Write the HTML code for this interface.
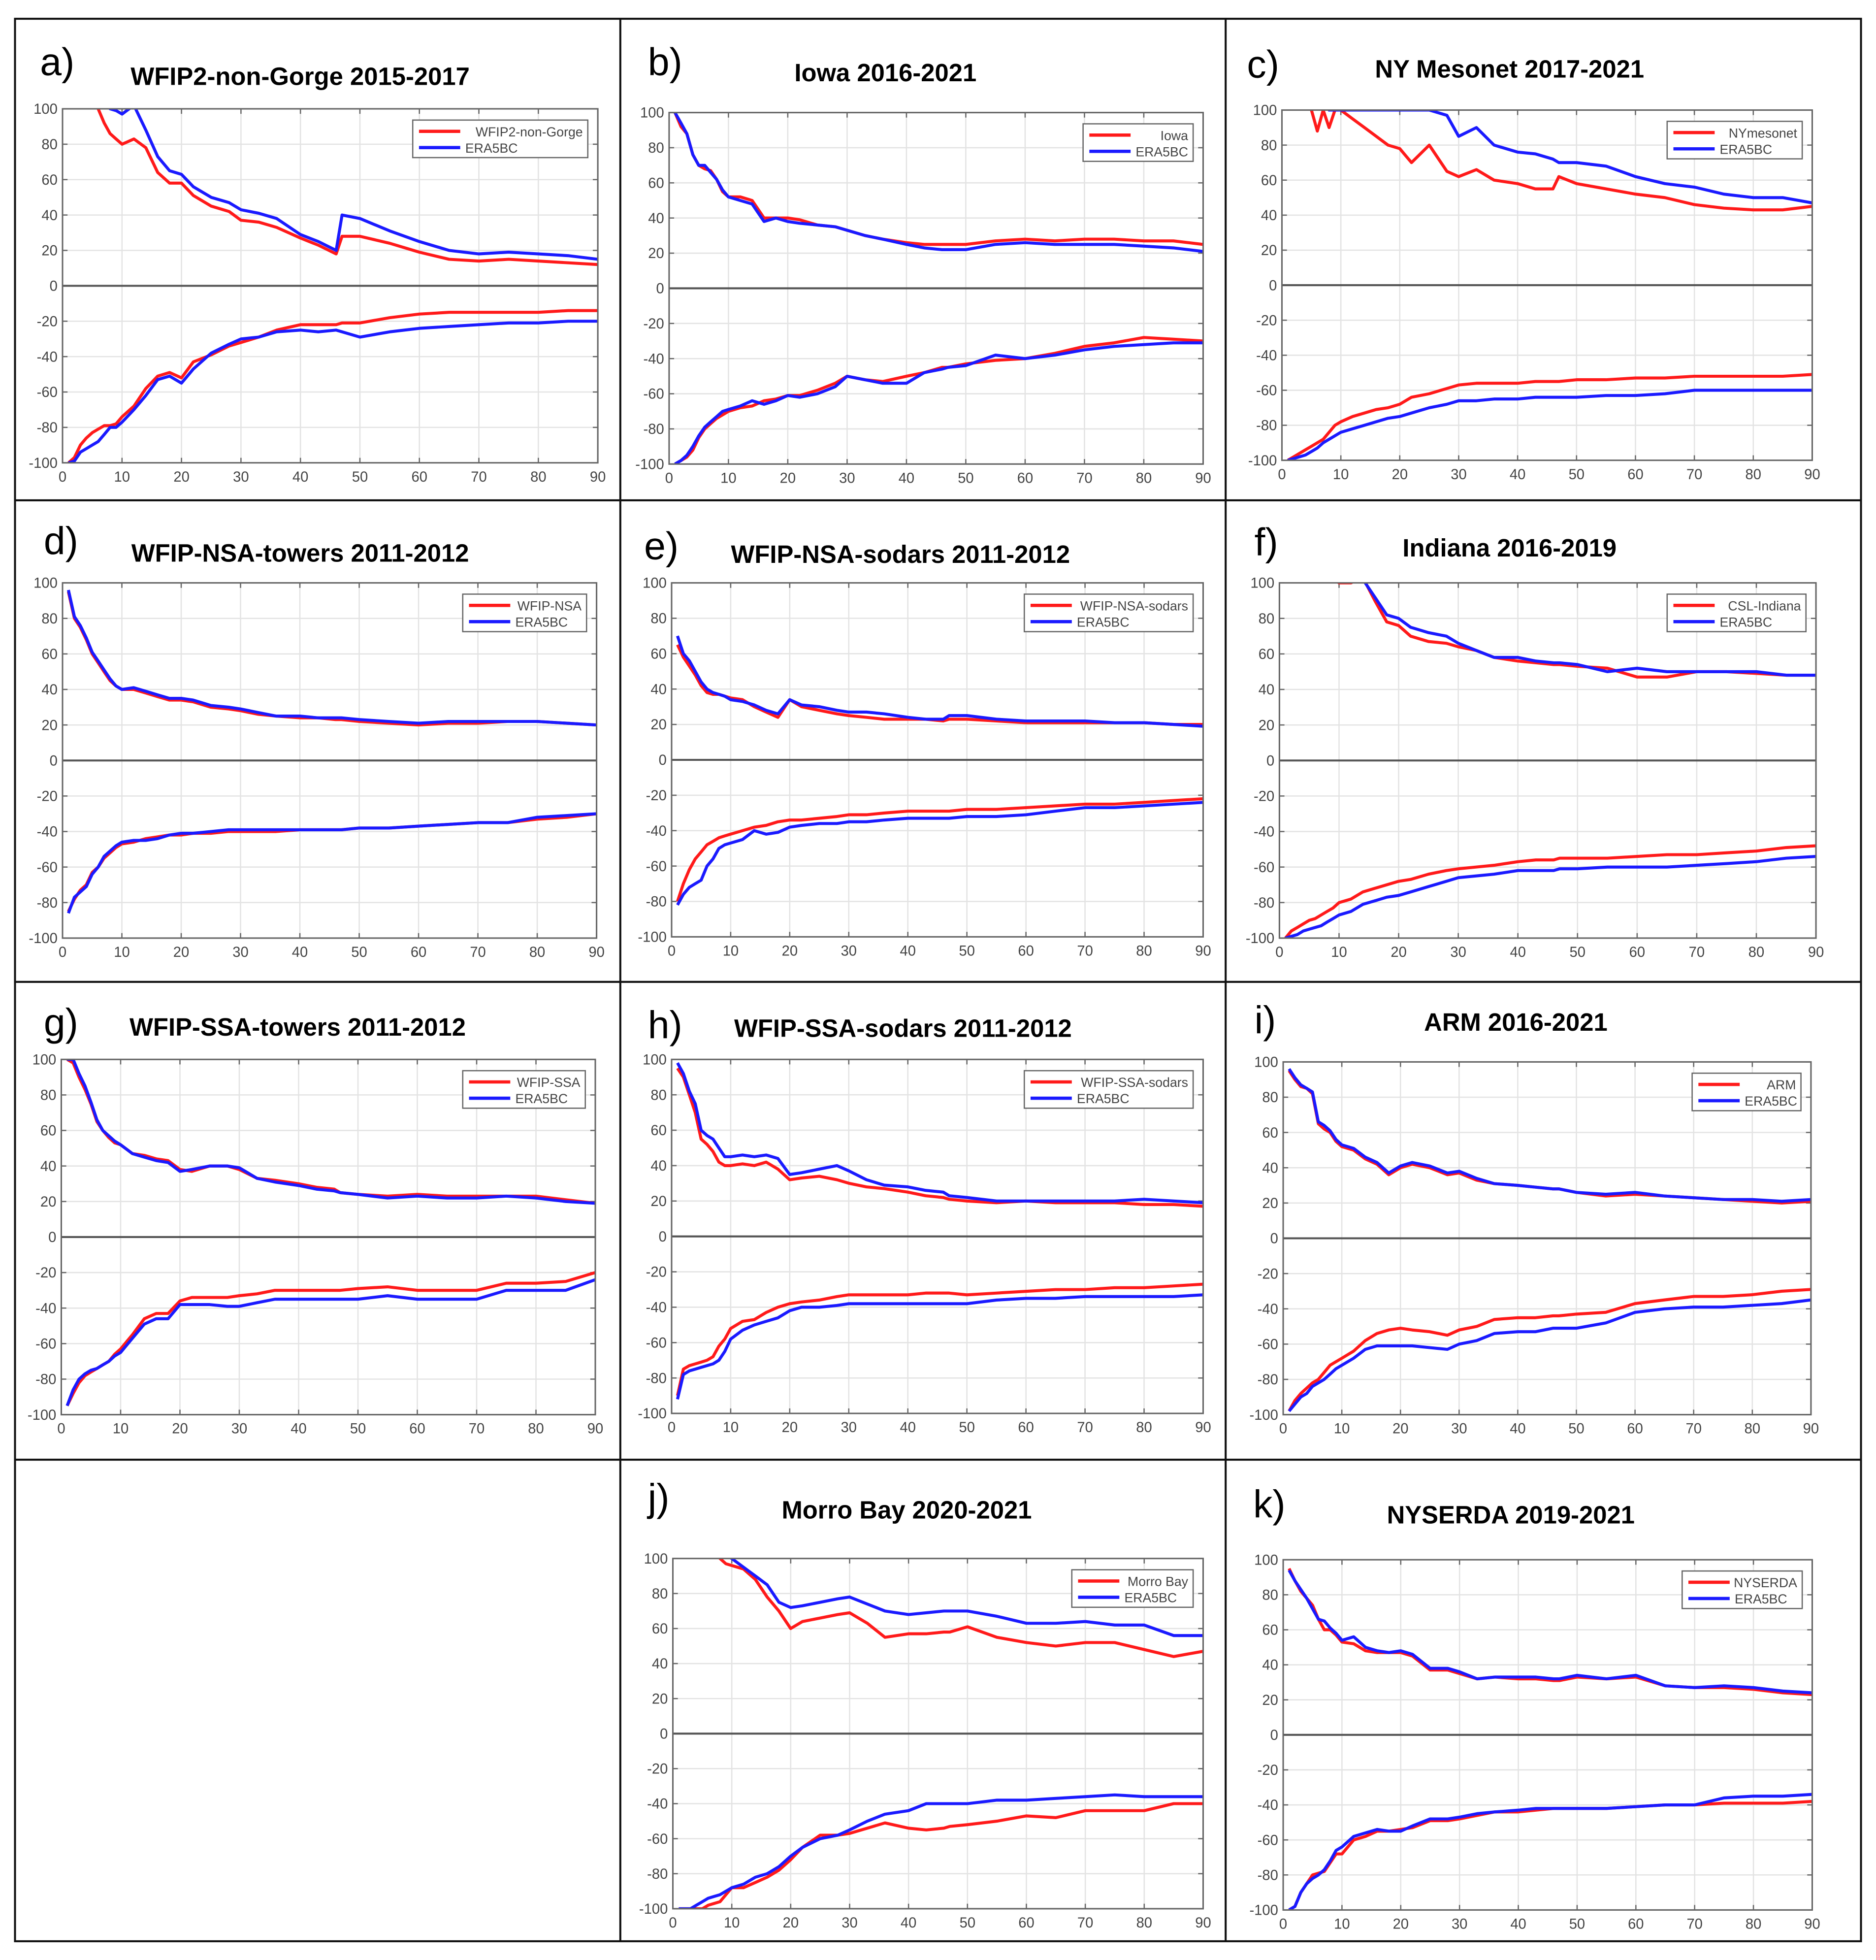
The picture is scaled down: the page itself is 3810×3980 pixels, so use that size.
<!DOCTYPE html>
<html><head><meta charset="utf-8">
<style>
html,body{margin:0;padding:0;background:#fff;}
svg{display:block;}
text{font-family:"Liberation Sans",sans-serif;}
</style></head>
<body>
<svg id="fig" xmlns="http://www.w3.org/2000/svg" width="3810" height="3980" viewBox="0 0 1500 1567" preserveAspectRatio="none">
<rect x="0" y="0" width="1500" height="1567" fill="#fff"/>
<g stroke="#111" stroke-width="1.6" fill="none">
<rect x="12" y="15" width="1476" height="1537"/>
<line x1="496" y1="15" x2="496" y2="1552"/>
<line x1="980" y1="15" x2="980" y2="1552"/>
<line x1="12" y1="400" x2="1488" y2="400"/>
<line x1="12" y1="785" x2="1488" y2="785"/>
<line x1="12" y1="1167" x2="1488" y2="1167"/>
</g>
</svg>
<script>
// shared x positions (lead time index)
const X = [1,2,3,4,5,6,7,8,9,10,12,14,16,18,20,22,25,28,30,33,36,40,43,46,47,50,55,60,65,70,75,80,85,90];
const yTicks = [100,80,60,40,20,0,-20,-40,-60,-80,-100];
const xTicks = [0,10,20,30,40,50,60,70,80,90];

const aRedTop = [140,130,122,115,108,100,92,86,83,80,83,78,64,58,58,51,45,42,37,36,33,27,23,18,28,28,24,19,15,14,15,14,13,12];
const aBlueTop = [150,140,130,120,115,110,105,100,99,97,102,88,73,65,63,56,50,47,43,41,38,29,25,20,40,38,31,25,20,18,19,18,17,15];
const aRedBot = [-100,-97,-90,-86,-83,-81,-79,-79,-78,-74,-68,-58,-51,-49,-52,-43,-39,-34,-32,-29,-25,-22,-22,-22,-21,-21,-18,-16,-15,-15,-15,-15,-14,-14];
const aBlueBot = [-100,-99,-94,-92,-90,-88,-84,-80,-80,-77,-70,-62,-53,-51,-55,-47,-38,-33,-30,-29,-26,-25,-26,-25,-26,-29,-26,-24,-23,-22,-21,-21,-20,-20];

const bRedTop = [100,92,88,76,70,68,67,62,55,52,52,50,40,40,40,39,36,35,33,30,28,26,25,25,25,25,27,28,27,28,28,27,27,25];
const bBlueTop = [100,94,88,76,70,70,66,62,56,52,50,48,38,40,38,37,36,35,33,30,28,25,23,22,22,22,25,26,25,25,25,24,23,21];
const bRedBot = [-100,-98,-96,-92,-85,-80,-77,-74,-72,-70,-68,-67,-64,-63,-61,-61,-58,-54,-50,-52,-53,-50,-48,-45,-45,-43,-41,-40,-37,-33,-31,-28,-29,-30];
const bBlueBot = [-100,-98,-95,-90,-84,-79,-76,-73,-70,-69,-67,-64,-66,-64,-61,-62,-60,-56,-50,-52,-54,-54,-48,-46,-45,-44,-38,-40,-38,-35,-33,-32,-31,-31];

const cRedTop = [130,120,115,110,100,88,100,90,100,100,95,90,85,80,78,70,80,65,62,66,60,58,55,55,62,58,55,52,50,46,44,43,43,45];
const cBlueTop = [150,150,140,130,120,110,105,100,100,100,100,100,100,100,100,100,100,97,85,90,80,76,75,72,70,70,68,62,58,56,52,50,50,47];
const cRedBot = [-100,-98,-96,-94,-92,-90,-88,-84,-80,-78,-75,-73,-71,-70,-68,-64,-62,-59,-57,-56,-56,-56,-55,-55,-55,-54,-54,-53,-53,-52,-52,-52,-52,-51];
const cBlueBot = [-100,-99,-98,-97,-95,-93,-90,-88,-86,-84,-82,-80,-78,-76,-75,-73,-70,-68,-66,-66,-65,-65,-64,-64,-64,-64,-63,-63,-62,-60,-60,-60,-60,-60];

const dRedTop = [95,80,75,68,60,55,50,45,42,40,40,38,36,34,34,33,30,29,28,26,25,24,24,23,23,22,21,20,21,21,22,22,21,20];
const dBlueTop = [96,81,76,69,61,56,51,46,42,40,41,39,37,35,35,34,31,30,29,27,25,25,24,24,24,23,22,21,22,22,22,22,21,20];
const dRedBot = [-85,-78,-73,-70,-63,-60,-55,-52,-49,-47,-46,-44,-43,-42,-42,-41,-41,-40,-40,-40,-40,-39,-39,-39,-39,-38,-38,-37,-36,-35,-35,-33,-32,-30];
const dBlueBot = [-86,-77,-74,-71,-64,-60,-54,-51,-48,-46,-45,-45,-44,-42,-41,-41,-40,-39,-39,-39,-39,-39,-39,-39,-39,-38,-38,-37,-36,-35,-35,-32,-31,-30];

const eRedTop = [65,58,53,48,42,38,37,37,36,35,34,30,27,24,34,30,28,26,25,24,23,23,23,22,23,23,22,21,21,21,21,21,20,20];
const eBlueTop = [70,60,56,50,44,40,38,37,36,34,33,31,28,26,34,31,30,28,27,27,26,24,23,23,25,25,23,22,22,22,21,21,20,19];
const eRedBot = [-80,-70,-62,-56,-52,-48,-46,-44,-43,-42,-40,-38,-37,-35,-34,-34,-33,-32,-31,-31,-30,-29,-29,-29,-29,-28,-28,-27,-26,-25,-25,-24,-23,-22];
const eBlueBot = [-82,-76,-72,-70,-68,-60,-56,-50,-48,-47,-45,-40,-42,-41,-38,-37,-36,-36,-35,-35,-34,-33,-33,-33,-33,-32,-32,-31,-29,-27,-27,-26,-25,-24];

const fRedTop = [130,125,120,115,112,110,108,105,102,100,100,103,90,78,76,70,67,66,64,62,58,56,55,54,54,53,52,47,47,50,50,49,48,48];
const fBlueTop = [140,135,130,125,120,115,110,108,105,105,104,102,92,82,80,75,72,70,66,62,58,58,56,55,55,54,50,52,50,50,50,50,48,48];
const fRedBot = [-100,-96,-94,-92,-90,-89,-87,-85,-83,-80,-78,-74,-72,-70,-68,-67,-64,-62,-61,-60,-59,-57,-56,-56,-55,-55,-55,-54,-53,-53,-52,-51,-49,-48];
const fBlueBot = [-100,-99,-98,-96,-95,-94,-93,-91,-89,-87,-85,-81,-79,-77,-76,-74,-71,-68,-66,-65,-64,-62,-62,-62,-61,-61,-60,-60,-60,-59,-58,-57,-55,-54];

const gRedTop = [100,98,90,83,75,65,60,56,53,52,47,46,44,43,38,37,40,40,38,33,32,30,28,27,25,24,23,24,23,23,23,23,21,19];
const gBlueTop = [100,100,92,85,76,66,60,57,54,52,47,45,43,42,37,38,40,40,39,33,31,29,27,26,25,24,22,23,22,22,23,22,20,19];
const gRedBot = [-95,-88,-82,-78,-76,-74,-72,-70,-66,-63,-55,-46,-43,-43,-36,-34,-34,-34,-33,-32,-30,-30,-30,-30,-30,-29,-28,-30,-30,-30,-26,-26,-25,-20];
const gBlueBot = [-95,-86,-80,-77,-75,-74,-72,-70,-67,-65,-57,-49,-46,-46,-38,-38,-38,-39,-39,-37,-35,-35,-35,-35,-35,-35,-33,-35,-35,-35,-30,-30,-30,-24];

const hRedTop = [95,90,80,70,55,52,48,42,40,40,41,40,42,38,32,33,34,32,30,28,27,25,23,22,21,20,19,20,19,19,19,18,18,17];
const hBlueTop = [98,92,82,75,60,57,55,50,45,45,46,45,46,44,35,36,38,40,37,32,29,28,26,25,23,22,20,20,20,20,20,21,20,19];
const hRedBot = [-90,-75,-73,-72,-71,-70,-68,-62,-58,-52,-48,-47,-43,-40,-38,-37,-36,-34,-33,-33,-33,-33,-32,-32,-32,-33,-32,-31,-30,-30,-29,-29,-28,-27];
const hBlueBot = [-92,-78,-76,-75,-74,-73,-72,-70,-65,-58,-53,-50,-48,-46,-42,-40,-40,-39,-38,-38,-38,-38,-38,-38,-38,-38,-36,-35,-35,-34,-34,-34,-34,-33];

const iRedTop = [95,90,86,85,82,65,62,60,55,52,50,45,42,36,40,42,40,36,37,33,31,30,29,28,28,26,24,25,24,23,22,21,20,21];
const iBlueTop = [96,91,87,85,83,66,64,61,56,53,51,46,43,37,41,43,41,37,38,34,31,30,29,28,28,26,25,26,24,23,22,22,21,22];
const iRedBot = [-98,-92,-88,-85,-82,-80,-76,-72,-70,-68,-64,-58,-54,-52,-51,-52,-53,-55,-52,-50,-46,-45,-45,-44,-44,-43,-42,-37,-35,-33,-33,-32,-30,-29];
const iBlueBot = [-98,-94,-90,-88,-84,-82,-80,-77,-74,-72,-68,-63,-61,-61,-61,-61,-62,-63,-60,-58,-54,-53,-53,-51,-51,-51,-48,-42,-40,-39,-39,-38,-37,-35];

const jRedTop = [150,140,130,120,115,110,105,100,97,96,94,88,78,70,60,64,66,68,69,63,55,57,57,58,58,61,55,52,50,52,52,48,44,47];
const jBlueTop = [160,150,140,130,120,115,110,105,102,100,95,90,85,75,72,73,75,77,78,74,70,68,69,70,70,70,67,63,63,64,62,62,56,56];
const jRedBot = [-100,-100,-100,-100,-100,-98,-97,-96,-92,-88,-88,-85,-82,-78,-72,-65,-58,-58,-57,-54,-51,-54,-55,-54,-53,-52,-50,-47,-48,-44,-44,-44,-40,-40];
const jBlueBot = [-100,-100,-100,-98,-96,-94,-93,-92,-90,-88,-86,-82,-80,-76,-70,-65,-60,-58,-55,-50,-46,-44,-40,-40,-40,-40,-38,-38,-37,-36,-35,-36,-36,-36];

const kRedTop = [95,88,82,78,74,66,60,60,57,53,52,48,47,47,47,45,37,37,35,32,33,32,32,31,31,33,32,33,28,27,27,26,24,23];
const kBlueTop = [94,88,83,78,72,66,65,61,58,54,56,50,48,47,48,46,38,38,36,32,33,33,33,32,32,34,32,34,28,27,28,27,25,24];
const kRedBot = [-100,-98,-90,-85,-80,-79,-78,-73,-68,-68,-60,-58,-55,-55,-54,-53,-49,-49,-48,-46,-44,-44,-43,-42,-42,-42,-42,-41,-40,-40,-39,-39,-39,-38];
const kBlueBot = [-100,-98,-90,-85,-82,-80,-77,-72,-66,-64,-58,-56,-54,-55,-55,-52,-48,-48,-47,-45,-44,-43,-42,-42,-42,-42,-42,-41,-40,-40,-36,-35,-35,-34];

const panels = [
 {id:'a',letter:'a)',title:'WFIP2-non-Gorge 2015-2017',leg:'WFIP2-non-Gorge',box:[50,87,478,370],lx:32,ly:60,tx:240,ty:68,lw:140,s:[aRedTop,aBlueTop,aRedBot,aBlueBot]},
 {id:'b',letter:'b)',title:'Iowa 2016-2021',leg:'Iowa',box:[535,90,962,371],lx:518,ly:60,tx:708,ty:65,lw:88,s:[bRedTop,bBlueTop,bRedBot,bBlueBot]},
 {id:'c',letter:'c)',title:'NY Mesonet 2017-2021',leg:'NYmesonet',box:[1025,88,1449,368],lx:997,ly:62,tx:1207,ty:62,lw:108,s:[cRedTop,cBlueTop,cRedBot,cBlueBot]},
 {id:'d',letter:'d)',title:'WFIP-NSA-towers 2011-2012',leg:'WFIP-NSA',box:[50,466,477,750],lx:35,ly:443,tx:240,ty:449,lw:99,s:[dRedTop,dBlueTop,dRedBot,dBlueBot]},
 {id:'e',letter:'e)',title:'WFIP-NSA-sodars 2011-2012',leg:'WFIP-NSA-sodars',box:[537,466,962,749],lx:515,ly:447,tx:720,ty:450,lw:135,s:[eRedTop,eBlueTop,eRedBot,eBlueBot]},
 {id:'f',letter:'f)',title:'Indiana 2016-2019',leg:'CSL-Indiana',box:[1023,466,1452,750],lx:1003,ly:444,tx:1207,ty:445,lw:111,s:[fRedTop,fBlueTop,fRedBot,fBlueBot]},
 {id:'g',letter:'g)',title:'WFIP-SSA-towers 2011-2012',leg:'WFIP-SSA',box:[49,847,476,1131],lx:35,ly:828,tx:238,ty:828,lw:98,s:[gRedTop,gBlueTop,gRedBot,gBlueBot]},
 {id:'h',letter:'h)',title:'WFIP-SSA-sodars 2011-2012',leg:'WFIP-SSA-sodars',box:[537,847,962,1130],lx:518,ly:830,tx:722,ty:829,lw:135,s:[hRedTop,hBlueTop,hRedBot,hBlueBot]},
 {id:'i',letter:'i)',title:'ARM 2016-2021',leg:'ARM',box:[1026,849,1448,1131],lx:1003,ly:826,tx:1212,ty:824,lw:87,s:[iRedTop,iBlueTop,iRedBot,iBlueBot]},
 {id:'j',letter:'j)',title:'Morro Bay 2020-2021',leg:'Morro Bay',box:[538,1246,962,1526],lx:518,ly:1208,tx:725,ty:1214,lw:97,s:[jRedTop,jBlueTop,jRedBot,jBlueBot]},
 {id:'k',letter:'k)',title:'NYSERDA 2019-2021',leg:'NYSERDA',box:[1026,1247,1449,1527],lx:1002,ly:1213,tx:1208,ty:1218,lw:96,s:[kRedTop,kBlueTop,kRedBot,kBlueBot]}
];

const NS='http://www.w3.org/2000/svg';
const fig=document.getElementById('fig');
function mk(tag,attrs,parent){const e=document.createElementNS(NS,tag);for(const k in attrs)e.setAttribute(k,attrs[k]);(parent||fig).appendChild(e);return e;}

panels.forEach(p=>{
  const [x0,y0,x1,y1]=p.box;
  const sx=v=>x0+(v/90)*(x1-x0);
  const sy=v=>y0+((100-v)/200)*(y1-y0);
  const g=mk('g',{});
  
  
  const lt=mk('text',{x:p.lx,y:p.ly,'font-size':31,fill:'#000'},g);
  lt.textContent=p.letter;
  
  
  const tt=mk('text',{x:p.tx,y:p.ty,'font-size':20,'font-weight':'bold','text-anchor':'middle',fill:'#000'},g);
  tt.textContent=p.title;
  
  
  // grid
  const grid=mk('g',{stroke:'#e3e3e3','stroke-width':1},g);
  
  
  xTicks.forEach(t=>{mk('line',{x1:sx(t),y1:y0,x2:sx(t),y2:y1},grid);});
  yTicks.forEach(t=>{mk('line',{x1:x0,y1:sy(t),x2:x1,y2:sy(t)},grid);});
  // tick labels
  const yl=mk('g',{'font-size':11.5,fill:'#444','text-anchor':'end'},g);
  
  
  yTicks.forEach(t=>{const e=mk('text',{x:x0-4,y:sy(t)+4},yl);e.textContent=t;});
  const xl=mk('g',{'font-size':11.5,fill:'#444','text-anchor':'middle'},g);
  
  
  xTicks.forEach(t=>{const e=mk('text',{x:sx(t),y:y1+15},xl);e.textContent=t;});
  // tick marks
  const tk=mk('g',{stroke:'#666','stroke-width':1},g);
  xTicks.forEach(t=>{mk('line',{x1:sx(t),y1:y1,x2:sx(t),y2:y1-4},tk);mk('line',{x1:sx(t),y1:y0,x2:sx(t),y2:y0+4},tk);});
  yTicks.forEach(t=>{mk('line',{x1:x0,y1:sy(t),x2:x0+4,y2:sy(t)},tk);mk('line',{x1:x1,y1:sy(t),x2:x1-4,y2:sy(t)},tk);});
  // clip
  const cp=mk('clipPath',{id:'clip-'+p.id},g);
  mk('rect',{x:x0,y:y0,width:x1-x0,height:y1-y0},cp);
  // series
  const cols=['#ff1a1a','#1a1aff','#ff1a1a','#1a1aff'];
  const names=['red-top','blue-top','red-bottom','blue-bottom'];
  const sg=mk('g',{'clip-path':'url(#clip-'+p.id+')'},g);
  p.s.forEach((arr,i)=>{
    const d=arr.map((v,k)=>(k?'L':'M')+sx(X[k]).toFixed(1)+','+sy(v).toFixed(1)).join(' ');
    const pe=mk('path',{d:d,fill:'none',stroke:cols[i],'stroke-width':2.4,'stroke-linejoin':'round'},sg);
    
    
  });
  // zero line and box
  mk('line',{x1:x0,y1:sy(0),x2:x1,y2:sy(0),stroke:'#555','stroke-width':1.6},g);
  const bx=mk('rect',{x:x0,y:y0,width:x1-x0,height:y1-y0,fill:'none',stroke:'#666','stroke-width':1.2},g);
  
  
  // legend
  const lg=mk('g',{},g);
  
  
  const lx1=x1-8, lx0=lx1-p.lw, ly0=y0+9;
  mk('rect',{x:lx0,y:ly0,width:p.lw,height:30,fill:'#fff',stroke:'#666','stroke-width':1},lg);
  mk('line',{x1:lx0+5,y1:ly0+9,x2:lx0+38,y2:ly0+9,stroke:'#ff1a1a','stroke-width':2.6},lg);
  mk('line',{x1:lx0+5,y1:ly0+22,x2:lx0+38,y2:ly0+22,stroke:'#1a1aff','stroke-width':2.6},lg);
  const t1=mk('text',{x:lx1-4,y:ly0+13,'font-size':10.5,fill:'#444','text-anchor':'end'},lg);t1.textContent=p.leg;
  
  
  const t2=mk('text',{x:lx0+42,y:ly0+26,'font-size':10.5,fill:'#444'},lg);t2.textContent='ERA5BC';
  
  
});
</script>
</body></html>
